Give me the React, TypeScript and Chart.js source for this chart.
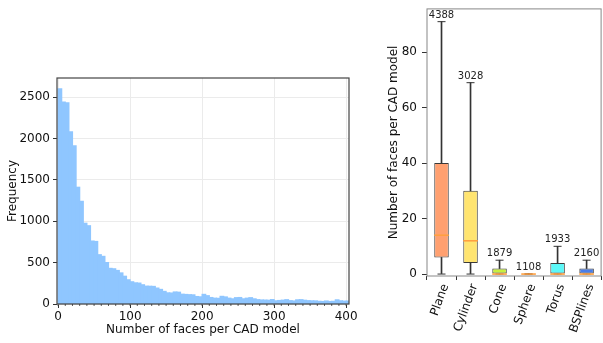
import React, { useEffect, useRef } from 'react';
import { Chart, registerables } from 'chart.js';

Chart.register(...registerables);

const FONT = "'DejaVu Sans', sans-serif";

// ---------- Histogram data ----------
const BIN_WIDTH = 5;
const HIST_COUNTS = [
  2600, 2440, 2430, 2080, 1910, 1410, 1240, 975, 945, 760,
  755, 595, 575, 500, 430, 425, 405, 375, 335, 292,
  268, 255, 252, 232, 215, 214, 212, 192, 176, 152,
  134, 132, 145, 142, 118, 115, 112, 110, 90, 86,
  116, 100, 78, 70, 68, 92, 85, 70, 62, 76,
  78, 62, 70, 76, 62, 52, 48, 47, 45, 53,
  38, 42, 46, 52, 40, 36, 50, 52, 45, 40,
  38, 37, 32, 30, 36, 30, 32, 50, 38, 34,
  35,
];
const HIST_X_TICKS = [0, 100, 200, 300, 400];
const HIST_Y_TICKS = [0, 500, 1000, 1500, 2000, 2500];
const HIST_X_LABEL = 'Number of faces per CAD model';
const HIST_Y_LABEL = 'Frequency';

// ---------- Box plot data ----------
const CATEGORIES = ['Plane', 'Cylinder', 'Cone', 'Sphere', 'Torus', 'BSPlines'];
const WHISKER_LOW = [0, 0, 0, 0, 0, 0];
const Q1 = [6, 4, 0, 0, 0, 0];
const MEDIAN = [14, 12, 0, 0, 0, 0];
const Q3 = [40, 30, 2, 0, 4, 2];
const WHISKER_HIGH = [91, 69, 5, 0, 10, 5];
const COUNTS = [4388, 3028, 1879, 1108, 1933, 2160];
const BOX_Y_TICKS = [0, 20, 40, 60, 80];
const BOX_COLORS = ['#ffa070', '#ffe470', '#c8f03c', '#ffc8a0', '#5cf8f8', '#4a7de8'];
const BOX_Y_LABEL = 'Number of faces per CAD model';

const framePlugin = {
  id: 'frame',
  afterDatasetsDraw(chart: any, _args: any, opts: any) {
    const { ctx, chartArea } = chart;
    ctx.save();
    ctx.strokeStyle = opts.color || '#444';
    ctx.lineWidth = opts.width || 1;
    ctx.strokeRect(chartArea.left, chartArea.top, chartArea.right - chartArea.left, chartArea.bottom - chartArea.top);
    ctx.restore();
  },
};

const minorTicksPlugin = {
  id: 'minorTicks',
  afterDraw(chart: any, _args: any, opts: any) {
    if (!opts || !opts.step) return;
    const x = chart.scales.x;
    const { ctx, chartArea } = chart;
    ctx.save();
    ctx.strokeStyle = opts.color || '#333';
    ctx.lineWidth = 0.8;
    const start = Math.ceil(x.min / opts.step) * opts.step;
    for (let v = start; v <= x.max; v += opts.step) {
      const px = x.getPixelForValue(v);
      ctx.beginPath();
      ctx.moveTo(px, chartArea.bottom);
      ctx.lineTo(px, chartArea.bottom + opts.length);
      ctx.stroke();
    }
    ctx.restore();
  },
};

const countLabelsPlugin = {
  id: 'countLabels',
  afterDatasetsDraw(chart: any) {
    const { ctx } = chart;
    const xs = chart.scales.x;
    const ys = chart.scales.y;
    ctx.save();
    ctx.font = `10px ${FONT}`;
    ctx.fillStyle = '#222';
    ctx.textAlign = 'center';
    ctx.textBaseline = 'bottom';
    COUNTS.forEach((c, i) => {
      const px = xs.getPixelForValue(i);
      const py = ys.getPixelForValue(WHISKER_HIGH[i]) - 1.5;
      ctx.fillText(String(c), px, py);
    });
    ctx.restore();
  },
};

function HistChart() {
  const ref = useRef<HTMLCanvasElement>(null);
  useEffect(() => {
    const data = HIST_COUNTS.map((c, i) => ({ x: i * BIN_WIDTH + BIN_WIDTH / 2, y: c }));
    const chart = new Chart(ref.current as HTMLCanvasElement, {
      type: 'bar',
      data: {
        datasets: [
          {
            data: data as any,
            backgroundColor: '#8fc6ff',
            borderWidth: 0,
            inflateAmount: 0.6,
            barPercentage: 1,
            categoryPercentage: 1,
          } as any,
        ],
      },
      options: {
        animation: false,
        responsive: false,
        devicePixelRatio: 1,
        layout: { padding: { left: 2, top: 78, right: 11, bottom: 2 } },
        plugins: {
          legend: { display: false },
          tooltip: { enabled: false },
          frame: { color: '#444', width: 1.2 },
          minorTicks: { step: 10, length: 2, color: '#333' },
        } as any,
        scales: {
          x: {
            type: 'linear',
            min: -1.5,
            max: 404,
            offset: false,
            afterFit: (s: any) => { s.height = 37; s.paddingLeft = 0; s.paddingRight = 0; },
            afterBuildTicks: (s: any) => { s.ticks = HIST_X_TICKS.map((v) => ({ value: v })); },
            ticks: {
              color: '#111',
              font: { family: FONT, size: 12 },
              padding: 2,
              maxRotation: 0,
              autoSkip: false,
              callback: (v: any) => String(v),
            },
            grid: { offset: false, color: '#ebebeb', tickColor: '#333', tickLength: 4, lineWidth: 1 },
            border: { display: false },
            title: { display: true, text: HIST_X_LABEL, color: '#111', font: { family: FONT, size: 12 }, padding: { top: 0, bottom: 4 } },
          },
          y: {
            min: 0,
            max: 2730,
            afterFit: (s: any) => { s.width = 55; s.paddingTop = 0; s.paddingBottom = 0; },
            afterBuildTicks: (s: any) => { s.ticks = HIST_Y_TICKS.map((v) => ({ value: v })); },
            ticks: {
              color: '#111',
              font: { family: FONT, size: 12 },
              padding: 3,
              autoSkip: false,
              callback: (v: any) => String(v),
            },
            grid: { color: '#ebebeb', tickColor: '#333', tickLength: 4, lineWidth: 1 },
            border: { display: false },
            title: { display: true, text: HIST_Y_LABEL, color: '#111', font: { family: FONT, size: 12 }, padding: { top: 4, bottom: 0 } },
          },
        },
      },
      plugins: [framePlugin, minorTicksPlugin],
    });
    return () => chart.destroy();
  }, []);
  return (
    <canvas
      ref={ref}
      width={360}
      height={343}
      style={{ position: 'absolute', left: 0, top: 0, width: 360, height: 343 }}
    />
  );
}

function BoxChart() {
  const ref = useRef<HTMLCanvasElement>(null);
  useEffect(() => {
    const chart = new Chart(ref.current as HTMLCanvasElement, {
      type: 'bar',
      data: {
        labels: CATEGORIES,
        datasets: [
          {
            type: 'line',
            data: MEDIAN,
            showLine: false,
            pointStyle: 'line',
            pointRadius: 7.3,
            pointBorderWidth: 1.6,
            pointBorderColor: '#ffa040',
            pointBackgroundColor: '#ffa040',
            order: 0,
          } as any,
          {
            type: 'line',
            data: WHISKER_HIGH,
            showLine: false,
            pointStyle: 'line',
            pointRadius: 4,
            pointBorderWidth: 1,
            pointBorderColor: '#333',
            order: 1,
          } as any,
          {
            type: 'line',
            data: WHISKER_LOW,
            showLine: false,
            pointStyle: 'line',
            pointRadius: 4,
            pointBorderWidth: 1,
            pointBorderColor: '#333',
            order: 1,
          } as any,
          {
            data: Q1.map((q, i) => [WHISKER_LOW[i], q]),
            backgroundColor: '#333',
            barThickness: 1,
            grouped: false,
            order: 2,
          } as any,
          {
            data: Q3.map((q, i) => [q, WHISKER_HIGH[i]]),
            backgroundColor: '#333',
            barThickness: 1,
            grouped: false,
            order: 2,
          } as any,
          {
            data: Q1.map((q, i) => [q, Q3[i]]),
            backgroundColor: BOX_COLORS,
            borderColor: '#3a3a3a',
            borderWidth: 1,
            borderSkipped: false,
            barPercentage: 0.5,
            categoryPercentage: 1,
            grouped: false,
            order: 3,
          } as any,
        ],
      },
      options: {
        animation: false,
        responsive: false,
        devicePixelRatio: 1,
        layout: { padding: { left: 23, top: 2, right: 6.6, bottom: 0 } },
        plugins: {
          legend: { display: false },
          tooltip: { enabled: false },
          frame: { color: '#888', width: 1 },
        } as any,
        scales: {
          x: {
            afterFit: (s: any) => { s.height = 67; s.paddingLeft = 0; s.paddingRight = 0; },
            ticks: {
              autoSkip: false,
              minRotation: 70,
              maxRotation: 70,
              labelOffset: 4,
              padding: 2,
              color: '#111',
              font: { family: FONT, size: 12 },
            },
            grid: { drawOnChartArea: false, tickColor: '#333', tickLength: 4 },
            border: { display: false },
          },
          y: {
            min: -0.7,
            max: 95.6,
            afterFit: (s: any) => { s.width = 44; s.paddingTop = 0; s.paddingBottom = 0; },
            afterBuildTicks: (s: any) => { s.ticks = BOX_Y_TICKS.map((v) => ({ value: v })); },
            ticks: {
              color: '#111',
              font: { family: FONT, size: 12 },
              padding: 5,
              autoSkip: false,
              callback: (v: any) => String(v),
            },
            grid: { drawOnChartArea: false, tickColor: '#333', tickLength: 5 },
            border: { display: false },
            title: { display: true, text: BOX_Y_LABEL, color: '#111', font: { family: FONT, size: 12 }, padding: { top: 4, bottom: 0 } },
          },
        },
      },
      plugins: [framePlugin, countLabelsPlugin],
    });
    return () => chart.destroy();
  }, []);
  return (
    <canvas
      ref={ref}
      width={250}
      height={343}
      style={{ position: 'absolute', left: 360, top: 0, width: 250, height: 343 }}
    />
  );
}

export default function App() {
  return (
    <div
      style={{
        position: 'absolute',
        left: 0,
        top: 0,
        width: 603,
        height: 343,
        overflow: 'hidden',
        background: '#fff',
      }}
    >
      <HistChart />
      <BoxChart />
    </div>
  );
}
